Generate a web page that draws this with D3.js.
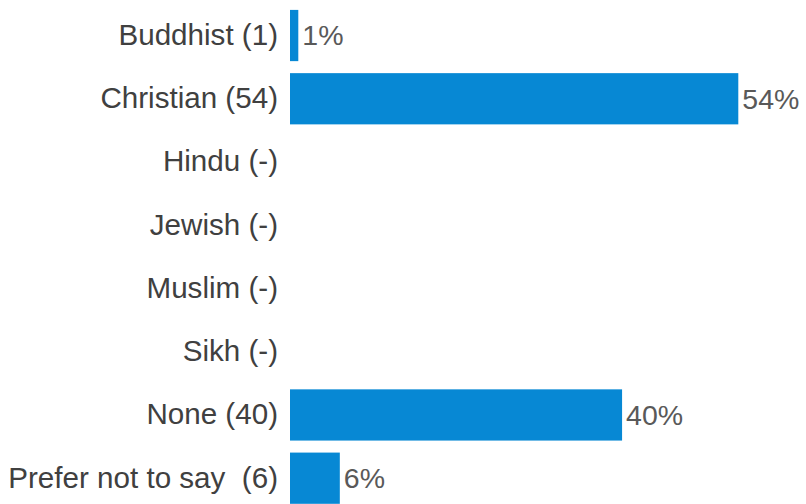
<!DOCTYPE html>
<html>
<head>
<meta charset="utf-8">
<script src="https://cdn.jsdelivr.net/npm/d3@7"></script>
<style>
  html, body { margin: 0; padding: 0; background: #ffffff; }
  svg { display: block; }
</style>
</head>
<body>
<svg id="chart" width="806" height="504"></svg>
<script>
// Religion of respondents, share of total
const categories = ["Buddhist (1)", "Christian (54)", "Hindu (-)", "Jewish (-)", "Muslim (-)", "Sikh (-)", "None (40)", "Prefer not to say  (6)"];
const percentages = [1, 54, 0, 0, 0, 0, 40, 6];
const valueLabels = ["1%", "54%", "", "", "", "", "40%", "6%"];

const rows = categories.map((c, i) => ({ cat: c, value: percentages[i], label: valueLabels[i] }));

const svg = d3.select("#chart");
const font = "'Liberation Sans', Arial, sans-serif";

const x = d3.scaleLinear().domain([0, 54]).range([290, 738.3]);
const y = d3.scaleBand()
  .domain(categories)
  .range([3.9, 3.9 + 8 * 63.24])
  .paddingInner(0.19)
  .paddingOuter(0.095);

// Category axis on the left, no line or ticks
const yAxis = d3.axisLeft(y).tickSize(0).tickPadding(12);
const gy = svg.append("g").attr("transform", `translate(${x(0)},0)`).call(yAxis);
gy.select(".domain").remove();
gy.selectAll("text")
  .attr("font-family", font)
  .attr("font-size", 29.6)
  .attr("fill", "#404040")
  .style("white-space", "pre");

// Bars
svg.append("g").selectAll("rect")
  .data(rows.filter(d => d.value > 0))
  .join("rect")
  .attr("x", x(0))
  .attr("y", d => y(d.cat))
  .attr("width", d => x(d.value) - x(0))
  .attr("height", y.bandwidth())
  .attr("fill", "#0788d4");

// Value labels just past each bar end
svg.append("g").selectAll("text")
  .data(rows.filter(d => d.label))
  .join("text")
  .attr("x", d => x(d.value) + 4)
  .attr("y", d => y(d.cat) + y.bandwidth() / 2)
  .attr("dy", "0.35em")
  .attr("font-family", font)
  .attr("font-size", 28.5)
  .attr("fill", "#595959")
  .text(d => d.label);
</script>
</body>
</html>
